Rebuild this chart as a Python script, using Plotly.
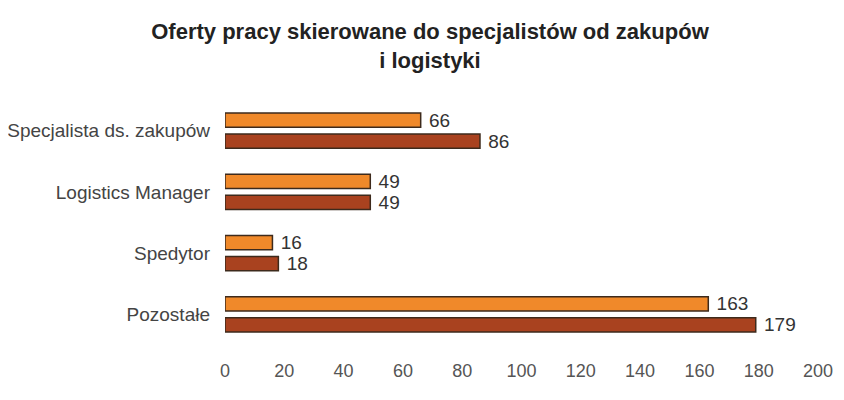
import plotly.graph_objects as go

categories = ["Specjalista ds. zakupów", "Logistics Manager", "Spedytor", "Pozostałe"]
series_a = [66, 49, 16, 163]
series_b = [86, 49, 18, 179]
x_ticks = [0, 20, 40, 60, 80, 100, 120, 140, 160, 180, 200]

FONT = "Liberation Sans, Arial, sans-serif"

fig = go.Figure()
fig.add_trace(go.Bar(
    y=categories, x=series_a, orientation="h", name="Seria 1",
    marker=dict(color="#F0892A", line=dict(color="#3d2a1c", width=1.5)),
    text=series_a, texttemplate=" %{x}", textposition="outside",
    cliponaxis=False, constraintext="none",
    textfont=dict(size=19, color="#333333", family=FONT),
))
fig.add_trace(go.Bar(
    y=categories, x=series_b, orientation="h", name="Seria 2",
    marker=dict(color="#A9421F", line=dict(color="#3d2a1c", width=1.5)),
    text=series_b, texttemplate=" %{x}", textposition="outside",
    cliponaxis=False, constraintext="none",
    textfont=dict(size=19, color="#333333", family=FONT),
))

fig.update_layout(
    width=844, height=400,
    barmode="group", bargap=0.31, bargroupgap=0.33,
    showlegend=False,
    paper_bgcolor="white", plot_bgcolor="white",
    margin=dict(l=217, r=34, t=92, b=63, autoexpand=False),
    font=dict(family=FONT, size=18, color="#444444"),
    title=dict(
        text="<b>Oferty pracy skierowane do specjalistów od zakupów<br>i logistyki</b>",
        x=0.5, xanchor="center", y=0.922, yanchor="top",
        font=dict(size=22, color="#222222"),
    ),
    xaxis=dict(range=[0, 200], tickvals=x_ticks, showgrid=False, zeroline=False,
               showline=False, ticks="", automargin=False, ticklabelstandoff=13,
               tickfont=dict(size=18, color="#555555")),
    yaxis=dict(autorange="reversed", showgrid=False, showline=False, ticks="",
               automargin=False, ticklabelstandoff=14,
               tickfont=dict(size=19, color="#444444")),
)

fig.write_html("out.html")
